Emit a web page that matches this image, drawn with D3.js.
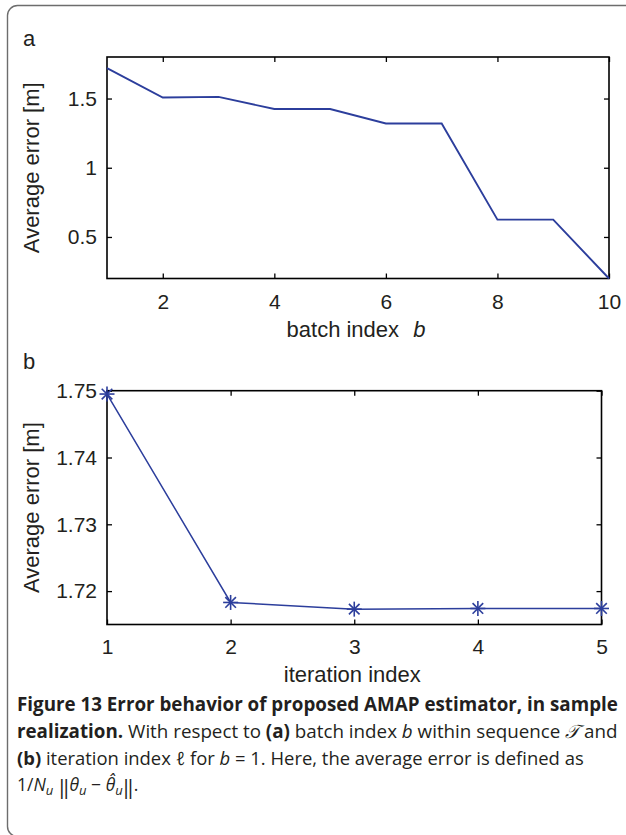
<!DOCTYPE html>
<html><head><meta charset="utf-8">
<script src="https://cdn.jsdelivr.net/npm/d3@7"></script>
<style>body{margin:0;background:#fff} svg{display:block}</style>
</head><body><svg id="c" width="626" height="835"></svg>
<script>
// Panel (a): batch index vs average error
const batchIndex = [1, 2, 3, 4, 5, 6, 7, 8, 9, 10];
const batchError = [1.72, 1.507, 1.512, 1.424, 1.424, 1.32, 1.32, 0.625, 0.625, 0.2];
const batchXTicks = [2, 4, 6, 8, 10];
const batchYTicks = [0.5, 1, 1.5];
// Panel (b): iteration index vs average error
const iterIndex = [1, 2, 3, 4, 5];
const iterError = [1.7495, 1.7183, 1.7173, 1.7174, 1.7174];
const iterXTicks = [1, 2, 3, 4, 5];
const iterYTicks = [1.72, 1.73, 1.74, 1.75];

const svg = d3.select("#c");
const FONT = "'Liberation Sans', Arial, Helvetica, sans-serif";
const CAP = "'Open Sans', 'Noto Sans', sans-serif";
const BLUE = "#2c3e9c";
const INK = "#231f20";

// outer rounded frame
svg.append("rect").attr("x", 7.5).attr("y", 5.5).attr("width", 660).attr("height", 831)
  .attr("rx", 10).attr("fill", "none").attr("stroke", "#6d6d6d").attr("stroke-width", 1.4);

function panel(o) {
  const x = d3.scaleLinear().domain(o.xDomain).range([o.x0, o.x1]);
  const y = d3.scaleLinear().domain(o.yDomain).range([o.y1, o.y0]);
  const g = svg.append("g");
  const fmt = d => String(d);
  const style = sel => {
    sel.select(".domain").remove();
    sel.selectAll(".tick line").attr("stroke", "#000").attr("stroke-width", 1.3);
    sel.selectAll(".tick text").attr("font-family", FONT).attr("font-size", 21).attr("fill", INK);
  };
  g.append("g").attr("transform", `translate(0,${o.y1})`)
    .call(d3.axisBottom(x).tickValues(o.xTicks).tickSizeInner(-5).tickSizeOuter(0).tickPadding(o.xPad).tickFormat(fmt)).call(style);
  g.append("g").attr("transform", `translate(0,${o.y0})`)
    .call(d3.axisTop(x).tickValues(o.xTicks).tickSizeInner(-5).tickSizeOuter(0).tickFormat("")).call(style);
  g.append("g").attr("transform", `translate(${o.x0},0)`)
    .call(d3.axisLeft(y).tickValues(o.yTicks).tickSizeInner(-5).tickSizeOuter(0).tickPadding(10).tickFormat(fmt)).call(style);
  g.append("g").attr("transform", `translate(${o.x1},0)`)
    .call(d3.axisRight(y).tickValues(o.yTicks).tickSizeInner(-5).tickSizeOuter(0).tickFormat("")).call(style);
  g.append("rect").attr("x", o.x0).attr("y", o.y0).attr("width", o.x1 - o.x0).attr("height", o.y1 - o.y0)
    .attr("fill", "none").attr("stroke", "#000").attr("stroke-width", 1.6);

  const pts = o.xs.map((v, i) => [v, o.ys[i]]);
  g.append("path").datum(pts)
    .attr("d", d3.line().x(d => x(d[0])).y(d => y(d[1])))
    .attr("fill", "none").attr("stroke", BLUE).attr("stroke-width", o.lw).attr("stroke-linejoin", "miter");
  if (o.marker) {
    const m = g.selectAll(".mk").data(pts).join("g")
      .attr("transform", d => `translate(${x(d[0])},${y(d[1])})`)
      .attr("stroke", BLUE).attr("stroke-width", 1.6);
    const r = 7.5, q = 5.3;
    m.append("line").attr("x1", -r).attr("x2", r).attr("y1", 0).attr("y2", 0);
    m.append("line").attr("x1", 0).attr("x2", 0).attr("y1", -r).attr("y2", r);
    m.append("line").attr("x1", -q).attr("x2", q).attr("y1", -q).attr("y2", q);
    m.append("line").attr("x1", -q).attr("x2", q).attr("y1", q).attr("y2", -q);
  }
  svg.append("text").attr("x", 23).attr("y", o.letterY).text(o.letter)
    .attr("font-family", FONT).attr("font-size", 22).attr("fill", INK);
  const cy = (o.y0 + o.y1) / 2;
  svg.append("text").attr("transform", `translate(39,${cy}) rotate(-90)`).attr("text-anchor", "middle")
    .attr("font-family", FONT).attr("font-size", 22).attr("fill", INK).text("Average error [m]");
  const xl = svg.append("text").attr("x", (o.x0 + o.x1) / 2 - 2).attr("y", o.xLabelY).attr("text-anchor", "middle")
    .attr("font-family", FONT).attr("font-size", 22).attr("fill", INK);
  xl.append("tspan").text(o.xLabel);
  if (o.xLabelVar) xl.append("tspan").attr("font-style", "italic").attr("dx", 8).text(o.xLabelVar);
}

panel({ x0: 107, x1: 609, y0: 57, y1: 278.5, xDomain: [1, 10], yDomain: [0.2, 1.8],
  xs: batchIndex, ys: batchError, xTicks: batchXTicks, yTicks: batchYTicks, xPad: 16,
  lw: 1.9, marker: false, letter: "a", letterY: 46, xLabel: "batch index ", xLabelVar: "b", xLabelY: 337 });

panel({ x0: 107, x1: 601.5, y0: 390.7, y1: 624.5, xDomain: [1, 5], yDomain: [1.715, 1.75],
  xs: iterIndex, ys: iterError, xTicks: iterXTicks, yTicks: iterYTicks, xPad: 14.5,
  lw: 1.5, marker: true, letter: "b", letterY: 369, xLabel: "iteration index", xLabelVar: null, xLabelY: 682 });

// caption
const BASE = 17.5;
function cap(y) {
  return svg.append("text").attr("x", 17).attr("y", y).attr("font-family", CAP).attr("font-size", BASE).attr("fill", INK);
}
function fit(t, target) {
  const L = t.node().getComputedTextLength();
  t.attr("font-size", (BASE * target / L).toFixed(2));
}
function sp(t, s, w, it) {
  const e = t.append("tspan").text(s);
  if (w) e.attr("font-weight", "bold");
  if (it) e.attr("font-style", "italic");
  return e;
}
let t1 = cap(711);
sp(t1, "Figure 13 Error behavior of proposed AMAP estimator, in sample", true);
fit(t1, 601);
let t2 = cap(738);
sp(t2, "realization.", true); sp(t2, " With respect to "); sp(t2, "(a)", true);
sp(t2, " batch index "); sp(t2, "b", false, true); sp(t2, " within sequence "); sp(t2, "𝒯", false, true); sp(t2, "  and");
fit(t2, 601);
let t3 = cap(765);
sp(t3, "(b) ", true); sp(t3, "iteration index ℓ for "); sp(t3, "b", false, true);
sp(t3, " = 1. Here, the average error is defined as");
fit(t3, 567);
let t4 = cap(791);
sp(t4, "1/"); sp(t4, "N", false, true); sp(t4, "u", false, true).attr("font-size", 13).attr("dy", 4);
sp(t4, " ‖").attr("font-size", 20).attr("dy", -1);
sp(t4, "θ", false, true).attr("font-size", 17.5).attr("dy", -3); sp(t4, "u", false, true).attr("font-size", 13).attr("dy", 4);
sp(t4, " − ").attr("dy", -4).attr("font-size", 17.5); sp(t4, "θ̂", false, true); sp(t4, "u", false, true).attr("font-size", 13).attr("dy", 4);
sp(t4, "‖").attr("font-size", 20).attr("dy", -1); sp(t4, ".").attr("font-size", 17.5).attr("dy", -3);
</script></body></html>
